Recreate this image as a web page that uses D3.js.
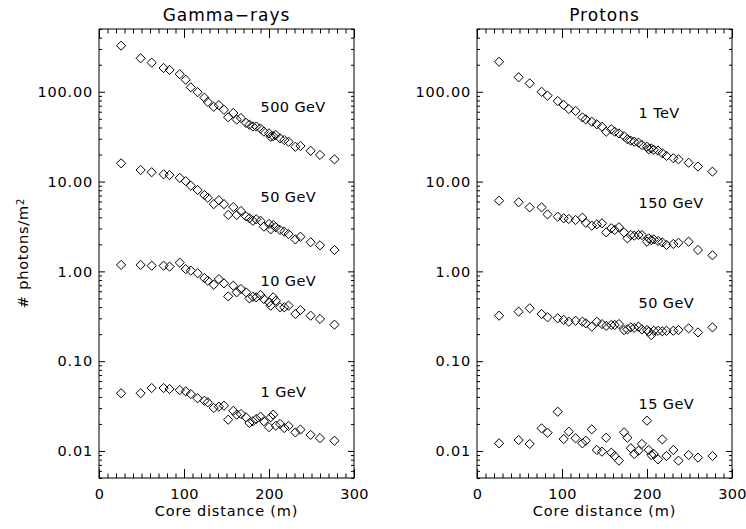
<!DOCTYPE html>
<html>
<head>
<meta charset="utf-8">
<script src="https://cdn.jsdelivr.net/npm/d3@7"></script>
<style>
  html, body { margin: 0; padding: 0; background: #fff; }
  svg text { font-family: "DejaVu Sans", sans-serif; fill: #000; }
</style>
</head>
<body>
<svg id="chart" width="746" height="529"></svg>
<script>
// Core distances (m) shared by every series
const distances = [26, 49, 62, 76, 83, 95, 102, 108, 116, 124, 128, 135, 141, 147, 152, 158, 162, 167,
  173, 177, 181, 185, 190, 194, 200, 202, 205, 208, 213, 218, 223, 231, 237, 249, 260, 277];

// Gamma-ray showers, photons per m^2
const gamma500 = [326, 236, 211, 184, 175, 157, 136, 112, 99, 86, 77, 68, 71, 63, 52, 58, 49, 51,
  45, 43, 41, 41, 39, 36, 34.5, 31.6, 32, 33, 30.3, 29, 27.8, 24.4, 24.9, 22, 19.8, 17.7];
const gamma50 = [15.97, 13.45, 12.7, 12.05, 11.8, 11.0, 10.1, 9.0, 8.05, 7.08, 6.6, 5.6, 6.2, 5.6, 4.25, 5.2, 4.25, 4.7,
  4.1, 3.9, 3.66, 3.8, 3.66, 3.15, 3.37, 2.94, 3.28, 3.1, 2.89, 2.77, 2.6, 2.27, 2.43, 2.11, 1.95, 1.73];
const gamma10 = [1.18, 1.18, 1.156, 1.156, 1.13, 1.25, 1.06, 1.02, 0.953, 0.843, 0.787, 0.71, 0.822, 0.736, 0.527, 0.692, 0.585, 0.636,
  0.585, 0.50, 0.52, 0.514, 0.546, 0.492, 0.453, 0.415, 0.514, 0.471, 0.398, 0.398, 0.415, 0.335, 0.371, 0.321, 0.295, 0.255];
const gamma1 = [0.0439, 0.0439, 0.0502, 0.0502, 0.049, 0.0477, 0.0461, 0.043, 0.0386, 0.0363, 0.0348, 0.0301, 0.0311, 0.0319, 0.0223, 0.028, 0.0254, 0.0258,
  0.0237, 0.0205, 0.0214, 0.0227, 0.0241, 0.0214, 0.0184, 0.0237, 0.0254, 0.0191, 0.020, 0.018, 0.019, 0.0161, 0.0173, 0.0151, 0.0139, 0.013];

// Proton showers, photons per m^2
const proton1000 = [216, 145, 124, 100, 90.4, 78.9, 71.3, 64.3, 61.1, 51.9, 49.3, 46.4, 43.4, 40.8, 35.9, 38.2, 35.9, 34.4,
  32.1, 29.6, 28.5, 27.8, 27.1, 25.5, 24.4, 22.9, 23.4, 22.6, 22.1, 20.7, 19.3, 18.2, 17.7, 16.2, 14.7, 12.9];
const proton150 = [6.12, 5.88, 5.16, 5.16, 4.31, 4.06, 3.9, 3.83, 3.73, 3.96, 3.48, 3.23, 3.34, 3.43, 2.72, 3.02, 2.89, 3.1,
  2.72, 2.33, 2.54, 2.5, 2.54, 2.54, 2.14, 2.33, 2.23, 2.27, 2.18, 2.1, 1.97, 2.02, 2.08, 2.14, 1.73, 1.51];
const proton50 = [0.321, 0.356, 0.388, 0.335, 0.308, 0.30, 0.288, 0.275, 0.282, 0.275, 0.264, 0.242, 0.275, 0.259, 0.247, 0.253, 0.253, 0.259,
  0.222, 0.226, 0.238, 0.235, 0.242, 0.226, 0.222, 0.213, 0.195, 0.218, 0.218, 0.215, 0.218, 0.218, 0.222, 0.232, 0.209, 0.238];
const proton15 = [0.01216, 0.01324, 0.01197, 0.01786, 0.01596, 0.02735, 0.01358, 0.0164, 0.01384, 0.01216, 0.013, 0.0174, 0.01026, 0.00982, 0.01406, 0.00957, 0.00879, 0.0078,
  0.01614, 0.01406, 0.01072, 0.00925, 0.01007, 0.01197, 0.02173, 0.01026, 0.00902, 0.00925, 0.00807, 0.01346, 0.00879, 0.01026, 0.0078, 0.00902, 0.00843, 0.00879];

// Energy labels and where they sit (distance, flux)
const gammaLabels = ["500 GeV", "50 GeV", "10 GeV", "1 GeV"];
const gammaLabelY = [67.6, 6.7, 0.78, 0.0454];
const protonLabels = ["1 TeV", "150 GeV", "50 GeV", "15 GeV"];
const protonLabelY = [58, 5.8, 0.445, 0.0333];
const labelX = 190;

// Axis ticks
const xTicks = [0, 100, 200, 300];
const yTicks = [0.01, 0.1, 1, 10, 100];
const yTickLabels = ["0.01", "0.10", "1.00", "10.00", "100.00"];
const titles = ["Gamma\u2212rays", "Protons"];
const xTitle = "Core distance (m)";

const svg = d3.select("#chart");
const plotTop = 29, plotBottom = 478;
const panelLefts = [99, 477];
const panelWidth = 255;

const panels = [
  { title: titles[0], left: panelLefts[0], series: [gamma500, gamma50, gamma10, gamma1], labels: gammaLabels, labelY: gammaLabelY },
  { title: titles[1], left: panelLefts[1], series: [proton1000, proton150, proton50, proton15], labels: protonLabels, labelY: protonLabelY }
];

const xMinor = d3.range(0, 301, 10).filter(v => v % 100 !== 0);
const yMinor = [];
[0.001, 0.01, 0.1, 1, 10, 100].forEach(d => { for (let k = 2; k <= 9; k++) { const v = k * d; if (v >= 0.005 && v <= 500) yMinor.push(v); } });

const diamond = "M0,-4.6L4.6,0L0,4.6L-4.6,0Z";

const styleAxis = (sel, spacing) => {
  sel.select(".domain").remove();
  sel.selectAll(".tick line").attr("stroke", "#000").attr("stroke-width", 1);
  sel.selectAll("text").style("font-family", "DejaVu Sans").style("font-size", "14.5px")
    .style("letter-spacing", spacing || "0.8px").attr("fill", "#000");
};

panels.forEach(p => {
  const x = d3.scaleLinear().domain([0, 300]).range([p.left, p.left + panelWidth]);
  const y = d3.scaleLog().domain([0.005, 500]).range([plotBottom, plotTop]);
  const g = svg.append("g");

  // bottom + top x ticks
  g.append("g").attr("transform", `translate(0,${plotBottom})`)
    .call(d3.axisBottom(x).tickValues(xTicks).tickSizeInner(-9).tickSizeOuter(0).tickPadding(11).tickFormat(d3.format("d")))
    .call(styleAxis, "0.3px");
  g.append("g").attr("transform", `translate(0,${plotBottom})`)
    .call(d3.axisBottom(x).tickValues(xMinor).tickSize(-4.5).tickFormat(""))
    .call(styleAxis);
  g.append("g").attr("transform", `translate(0,${plotTop})`)
    .call(d3.axisTop(x).tickValues(xTicks).tickSize(-9).tickFormat(""))
    .call(styleAxis);
  g.append("g").attr("transform", `translate(0,${plotTop})`)
    .call(d3.axisTop(x).tickValues(xMinor).tickSize(-4.5).tickFormat(""))
    .call(styleAxis);

  // left + right y ticks
  g.append("g").attr("transform", `translate(${p.left},0)`)
    .call(d3.axisLeft(y).tickValues(yTicks).tickSizeInner(-6).tickSizeOuter(0).tickPadding(6)
      .tickFormat((d, i) => yTickLabels[i]))
    .call(styleAxis);
  g.append("g").attr("transform", `translate(${p.left},0)`)
    .call(d3.axisLeft(y).tickValues(yMinor).tickSize(-3).tickFormat(""))
    .call(styleAxis);
  g.append("g").attr("transform", `translate(${p.left + panelWidth},0)`)
    .call(d3.axisRight(y).tickValues(yTicks).tickSize(-6).tickFormat(""))
    .call(styleAxis);
  g.append("g").attr("transform", `translate(${p.left + panelWidth},0)`)
    .call(d3.axisRight(y).tickValues(yMinor).tickSize(-3).tickFormat(""))
    .call(styleAxis);

  // frame
  g.append("rect").attr("x", p.left).attr("y", plotTop).attr("width", panelWidth).attr("height", plotBottom - plotTop)
    .attr("fill", "none").attr("stroke", "#000").attr("stroke-width", 1);

  // title
  g.append("text").attr("x", x(150)).attr("y", 21).attr("text-anchor", "middle")
    .style("font-size", "17px").style("letter-spacing", "1px").text(p.title);

  // x-axis title
  g.append("text").attr("x", x(150)).attr("y", 516).attr("text-anchor", "middle")
    .style("font-size", "14.5px").style("letter-spacing", "0.8px").text(xTitle);

  // data series
  p.series.forEach(vals => {
    g.append("g").selectAll("path").data(vals).join("path")
      .attr("d", diamond)
      .attr("transform", (v, i) => `translate(${x(distances[i])},${y(v)})`)
      .attr("fill", "none").attr("stroke", "#000").attr("stroke-width", 1);
  });

  // energy labels
  p.labels.forEach((t, i) => {
    g.append("text").attr("x", x(labelX)).attr("y", y(p.labelY[i])).attr("dy", "0.36em")
      .style("font-size", "14.5px").style("letter-spacing", "0.4px").text(t);
  });
});

// shared y-axis title
svg.append("text").attr("transform", "translate(28,253) rotate(-90)").attr("text-anchor", "middle")
  .style("font-size", "14.5px").style("letter-spacing", "0.8px")
  .call(t => {
    t.append("tspan").text("# photons/m");
    t.append("tspan").attr("dy", "-0.45em").style("font-size", "10px").text("2");
  });
</script>
</body>
</html>
